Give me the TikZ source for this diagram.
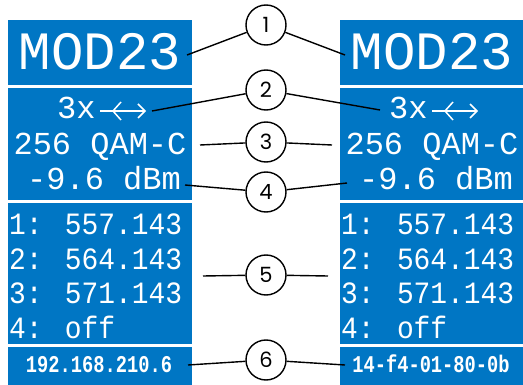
\documentclass[tikz,border=0pt]{standalone}
\usepackage{fontspec}
\usepackage{xcolor}
\usepackage{tikz}
\usetikzlibrary{positioning,arrows.meta}
\newfontfamily\lcdfont{Liberation Mono}
\newfontfamily\lcdrows[FakeStretch=0.9]{Liberation Mono}
\newfontfamily\lcdnarrow[FakeStretch=0.78]{Liberation Mono}
\newfontfamily\calloutfont{Poppins}
\definecolor{panel}{RGB}{0,118,196}

\begin{document}
\begin{tikzpicture}[x=1pt,y=-1pt,every node/.style={inner sep=0pt},
  lcd/.style={text=white,anchor=base},
  big/.style={lcd,font=\lcdfont\fontsize{54}{54}\selectfont},
  mid/.style={lcd,font=\lcdfont\fontsize{32}{32}\selectfont},
  row/.style={lcd,anchor=base west,font=\lcdrows\fontsize{31}{31}\selectfont},
  small/.style={lcd,font=\lcdnarrow\bfseries\fontsize{24}{24}\selectfont},
  callout/.style={circle,draw,line width=1.4pt,fill=white,minimum size=40pt,
    font=\calloutfont\fontsize{21}{21}\selectfont},
  lead/.style={line width=1.4pt}]
  \useasboundingbox (0,0) rectangle (523,385);
  % the two displays
  \foreach \side/\dx/\addr in {L/8/192.168.210.6,R/340/14-f4-01-80-0b}{
    \begin{scope}[xshift=\dx]
      \fill[panel] (0,20) rectangle (184,85);
      \fill[panel] (0,88) rectangle (184,200);
      \fill[panel] (0,203) rectangle (184,344);
      \fill[panel] (0,347) rectangle (184,385);
      \node[big] (mod\side) at (92,70) {MOD23};
      \node[mid,anchor=base west] (rep\side) at (49,119) {3x};
      \draw[white,line width=1.5pt] (92,111) -- (137,111);
      \draw[white,line width=1.5pt] (113,102) -- (105,111) -- (113,120);
      \draw[white,line width=1.5pt] (130,104) -- (137,111) -- (130,118);
      \node[mid] (qam\side) at (92,155) {256 QAM-C};
      \node[mid] (lvl\side) at (96,190) {-9.6 dBm};
      \node[row] (ch1\side) at (1,235) {1: 557.143};
      \node[row] (ch2\side) at (1,270) {2: 564.143};
      \node[row] (ch3\side) at (1,304) {3: 571.143};
      \node[row] (ch4\side) at (1,338) {4: off};
      \node[small] (adr\side) at (91,373) {\addr};
    \end{scope}}
  % callouts
  \node[callout] (n1) at (266,25) {1};
  \node[callout] (n2) at (266,90) {2};
  \node[callout] (n3) at (266,142) {3};
  \node[callout] (n4) at (266,192) {4};
  \node[callout] (n5) at (266,275) {5};
  \node[callout] (n6) at (266,360) {6};
  \coordinate (a1) at (187,55);  \coordinate (b1) at (345,55);
  \coordinate (a2) at (152,111); \coordinate (b2) at (380,110);
  \coordinate (a3) at (200,145); \coordinate (b3) at (332,145);
  \coordinate (a4) at (185,185); \coordinate (b4) at (347,183);
  \coordinate (a5) at (203,276); \coordinate (b5) at (328,276);
  \coordinate (a6) at (188,365); \coordinate (b6) at (345,365);
  \foreach \i in {1,...,6}
    \draw[lead] (a\i) -- (n\i) -- (b\i);
\end{tikzpicture}
\end{document}
